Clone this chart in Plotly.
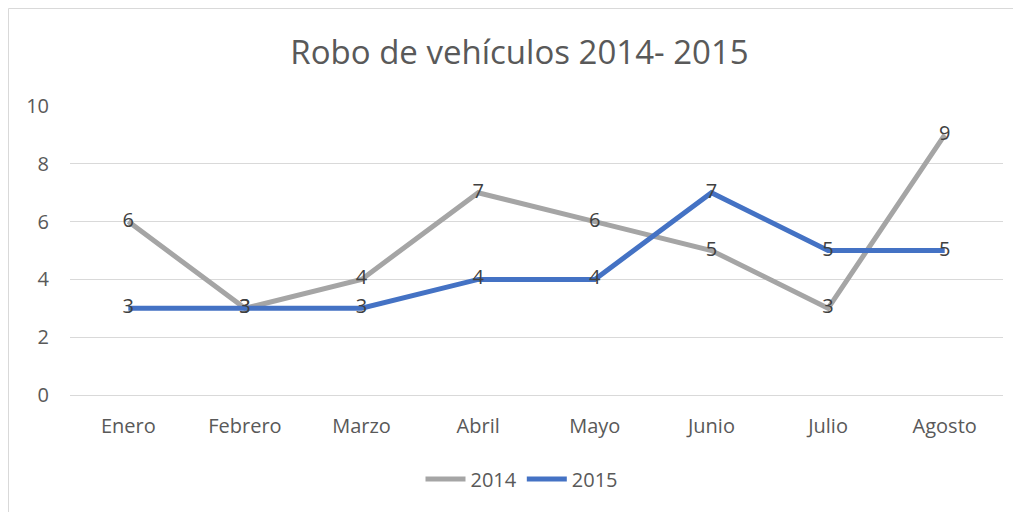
import plotly.graph_objects as go

meses = ["Enero", "Febrero", "Marzo", "Abril", "Mayo", "Junio", "Julio", "Agosto"]
robos_2014 = [6, 3, 4, 7, 6, 5, 3, 9]
robos_2015 = [3, 3, 3, 4, 4, 7, 5, 5]
series_names = ["2014", "2015"]
y_ticks = [0, 2, 4, 6, 8, 10]

# page has an 8px body margin; the figure is placed at (8, 8)
OFF = 8
W, H = 1013, 504
L, R, T, B = 70 - OFF, 18, 106 - OFF, 117
pw, ph = W - L - R, H - T - B

FONT = "Open Sans"

fig = go.Figure()
for name, vals, col in [(series_names[0], robos_2014, "#A5A5A5"),
                        (series_names[1], robos_2015, "#4472C4")]:
    fig.add_trace(go.Scatter(
        x=meses, y=vals, name=name, mode="lines+text",
        line=dict(color=col, width=5),
        text=[str(v) for v in vals], textposition="middle center",
        textfont=dict(family=FONT, size=20, color="#404040"),
        cliponaxis=False,
    ))

def px_x(p):
    return (p - OFF - L) / pw

def px_y(p):
    return (H - B - (p - OFF)) / ph

fig.add_shape(type="rect", xref="paper", yref="paper",
              x0=px_x(8.5), x1=px_x(1040),
              y0=px_y(540), y1=px_y(8.5),
              line=dict(color="#D9D9D9", width=1), fillcolor="rgba(0,0,0,0)",
              layer="below")

fig.update_layout(
    width=W, height=H,
    margin=dict(l=L, r=R, t=T, b=B),
    paper_bgcolor="white", plot_bgcolor="white",
    title=dict(text="Robo de vehículos 2014- 2015", xref="container",
               x=(519.5 - OFF) / W, xanchor="center",
               y=1 - (52 - OFF) / H, yanchor="middle",
               font=dict(family=FONT, size=33, color="#595959")),
    xaxis=dict(type="category", range=[-0.5, 7.5], showgrid=False, showline=False,
               ticks="", ticklabelstandoff=17,
               tickfont=dict(family=FONT, size=20, color="#595959"),
               fixedrange=True),
    yaxis=dict(range=[0, 10], tickvals=y_ticks, showgrid=True, gridcolor="#D9D9D9",
               gridwidth=1, zeroline=True, zerolinecolor="#D9D9D9", zerolinewidth=1,
               showline=False, ticks="", ticklabelstandoff=20,
               tickfont=dict(family=FONT, size=20, color="#595959")),
    legend=dict(orientation="h", x=px_x(522), xanchor="center", y=px_y(479),
                yanchor="middle", font=dict(family=FONT, size=20, color="#595959"),
                itemwidth=40),
    showlegend=True,
)

fig.write_html("out.html")
